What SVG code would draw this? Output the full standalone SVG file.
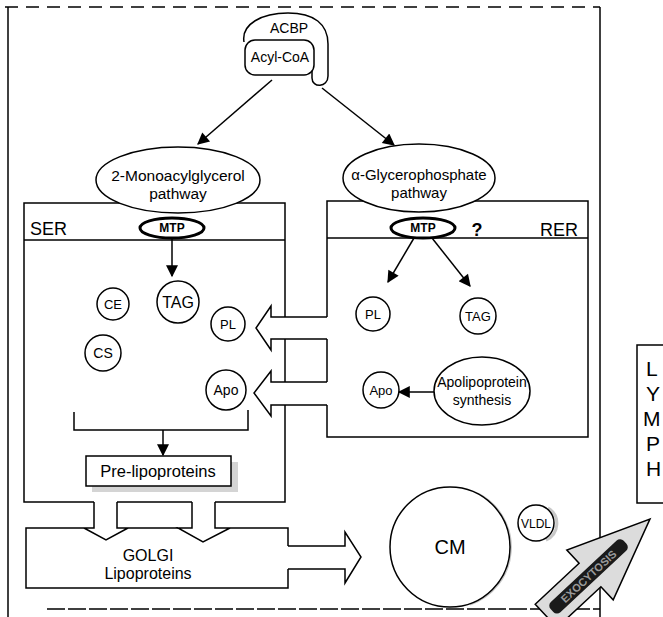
<svg xmlns="http://www.w3.org/2000/svg" width="663" height="617" viewBox="0 0 663 617">
<style>
.ln{fill:none;stroke:#000;stroke-width:1.5}
.sh{fill:#fff;stroke:#000;stroke-width:1.5}
.t{font-family:"Liberation Sans",Arial,sans-serif;text-anchor:middle;fill:#000}
.b{font-weight:bold}
.mtp{fill:#fff;stroke:#000;stroke-width:3}
.shade{fill:none;stroke:#c8c8c8;stroke-width:3}
.ly{font-family:"Liberation Sans",Arial,sans-serif;font-size:21px;fill:#000}
</style>
<defs>
<marker id="ah" viewBox="0 0 10 10" refX="9" refY="5" markerWidth="14" markerHeight="12" markerUnits="userSpaceOnUse" orient="auto">
<path d="M0,0 L10,5 L0,10 z" fill="#000"/>
</marker>
</defs>
<rect width="663" height="617" fill="#fff"/>

<g id="frame">
<path class="ln" d="M5,7 H600" stroke-dasharray="13 8"/>
<path class="ln" d="M8,7 V617"/>
<path class="ln" d="M600,7 V617"/>
<path class="ln" d="M47,609 H600" stroke-dasharray="18 3" stroke="#333"/>
</g>

<g id="ser">
<path class="ln" d="M285,317 V203 H24 V502 H94 M117,502 H192 M215,502 H285 V405"/>
<path class="ln" d="M285,339 V382" stroke-width="1"/>
<path class="ln" d="M24,240 H285"/>
<text class="t" x="30" y="235" font-size="18" style="text-anchor:start">SER</text>
</g>

<g id="rer">
<path class="ln" d="M327,317 V201 H588 V437 H327 V405 M327,339 V382"/>
<path class="ln" d="M327,238 H588"/>
<text class="t" x="559" y="236" font-size="18">RER</text>
<text class="t b" x="477" y="236" font-size="18">?</text>
</g>

<g id="connectors">
<path class="ln" d="M272,80 L198,144" marker-end="url(#ah)"/>
<path class="ln" d="M322,88 L394,145" marker-end="url(#ah)"/>
<path class="ln" d="M172,238 V276" marker-end="url(#ah)"/>
<path class="ln" d="M414,238 L388,282" marker-end="url(#ah)"/>
<path class="ln" d="M432,238 L470,286" marker-end="url(#ah)"/>
<path class="ln" d="M434,392 H399" marker-end="url(#ah)"/>
<path class="ln" d="M74,412 V430 H248 V410"/>
<path class="ln" d="M163,430 V455" marker-end="url(#ah)"/>
<path class="sh" d="M327,317 H271 V306 L256,328 L271,350 V339 H327"/>
<path class="sh" d="M327,382 H271 V371 L254,393 L271,416 V405 H327"/>
<path class="sh" d="M94,502 V528 H84 L106,540 L128,528 H117 V502"/>
<path class="sh" d="M192,502 V528 H178 L203,542 L230,528 H215 V502"/>
<path class="sh" d="M288,546 H345 V532 L361,557 L345,583 V569 H288"/>
</g>

<g id="acbp">
<path class="sh" d="M244,42 C241,24 262,13 288,13 C314,13 328,24 328,44 L328,76 C328,88 312,88 312,78 L312,70"/>
<rect class="sh" x="245" y="40" width="69" height="35" rx="10"/>
<text class="t" x="289" y="33" font-size="14">ACBP</text>
<text class="t" x="280" y="62" font-size="14">Acyl-CoA</text>
</g>

<g id="mag-pathway">
<ellipse class="sh" cx="178" cy="180" rx="82" ry="33"/>
<text class="t" x="178" y="181" font-size="15.5">2-Monoacylglycerol</text>
<text class="t" x="178" y="199" font-size="15.5">pathway</text>
</g>

<g id="gp-pathway">
<ellipse class="sh" cx="419" cy="178" rx="76" ry="34"/>
<text class="t" x="419" y="180" font-size="15">α-Glycerophosphate</text>
<text class="t" x="419" y="198" font-size="15">pathway</text>
</g>

<g id="ser-mtp">
<ellipse class="mtp" cx="172" cy="228" rx="32" ry="10"/>
<text class="t" x="172" y="232" font-size="12" font-weight="900">MTP</text>
</g>
<g id="rer-mtp">
<ellipse class="mtp" cx="423" cy="228" rx="32" ry="10"/>
<text class="t" x="423" y="232" font-size="12" font-weight="900">MTP</text>
</g>

<g id="ser-ce"><circle class="sh" cx="113" cy="304" r="16"/><text class="t" x="113" y="309" font-size="13">CE</text></g>
<g id="ser-tag"><circle class="sh" cx="178" cy="302" r="21"/><text class="t" x="178" y="308" font-size="16">TAG</text></g>
<g id="ser-pl"><circle class="sh" cx="228" cy="324" r="17"/><text class="t" x="228" y="329" font-size="13">PL</text></g>
<g id="ser-cs"><circle class="sh" cx="103" cy="353" r="18"/><text class="t" x="103" y="358" font-size="14">CS</text></g>
<g id="ser-apo"><circle class="sh" cx="226" cy="390" r="20"/><text class="t" x="226" y="395" font-size="14">Apo</text></g>

<g id="rer-pl"><circle class="sh" cx="373" cy="314" r="17"/><text class="t" x="373" y="319" font-size="13">PL</text></g>
<g id="rer-tag"><circle class="sh" cx="478" cy="316" r="18"/><text class="t" x="478" y="321" font-size="13">TAG</text></g>
<g id="rer-apo"><circle class="sh" cx="381" cy="390" r="18"/><text class="t" x="381" y="395" font-size="13">Apo</text></g>
<g id="apolipoprotein-synthesis">
<ellipse class="sh" cx="482" cy="391" rx="48" ry="34"/>
<text class="t" x="482" y="387" font-size="14">Apolipoprotein</text>
<text class="t" x="482" y="405" font-size="14">synthesis</text>
</g>

<g id="pre-lipoproteins">
<rect x="92" y="486" width="146" height="6" fill="#d4d4d4"/>
<rect x="231" y="462" width="7" height="30" fill="#d4d4d4"/>
<rect class="sh" x="86" y="456" width="145" height="30"/>
<text class="t" x="158" y="477" font-size="16.5">Pre-lipoproteins</text>
</g>

<g id="golgi">
<path class="ln" d="M84,528 H26 V588 H288 V569 M288,546 V528 H230 M128,528 H178"/>
<text class="t" x="148" y="561" font-size="16">GOLGI</text>
<text class="t" x="148" y="579" font-size="16">Lipoproteins</text>
</g>

<g id="cm">
<path class="shade" d="M478,494 A60,60 0 0 1 470,604"/>
<circle class="sh" cx="450" cy="547" r="60"/>
<text class="t" x="450" y="554" font-size="20">CM</text>
</g>
<g id="vldl">
<path class="shade" d="M548,508 A18,18 0 0 1 546,540"/>
<circle class="sh" cx="536" cy="523" r="18"/>
<text class="t" x="536" y="528" font-size="12">VLDL</text>
</g>

<g id="exocytosis" transform="translate(590,575) rotate(-43)">
<path d="M-60,-16 H0 V-34 L82,0 L0,34 V16 H-60 z" fill="#dcdcdc" stroke="#000" stroke-width="1.5"/>
<rect x="-52" y="-7" width="100" height="14" rx="5" fill="#1a1a1a"/>
<text class="t b" x="-2" y="4" font-size="11" style="fill:#9a9a9a">EXOCYTOSIS</text>
</g>

<g id="lymph">
<rect class="sh" x="637" y="345" width="40" height="158"/>
<text class="ly" x="646" y="376">L</text>
<text class="ly" x="646" y="401">Y</text>
<text class="ly" x="643" y="426">M</text>
<text class="ly" x="646" y="451">P</text>
<text class="ly" x="646" y="476">H</text>
</g>
</svg>
